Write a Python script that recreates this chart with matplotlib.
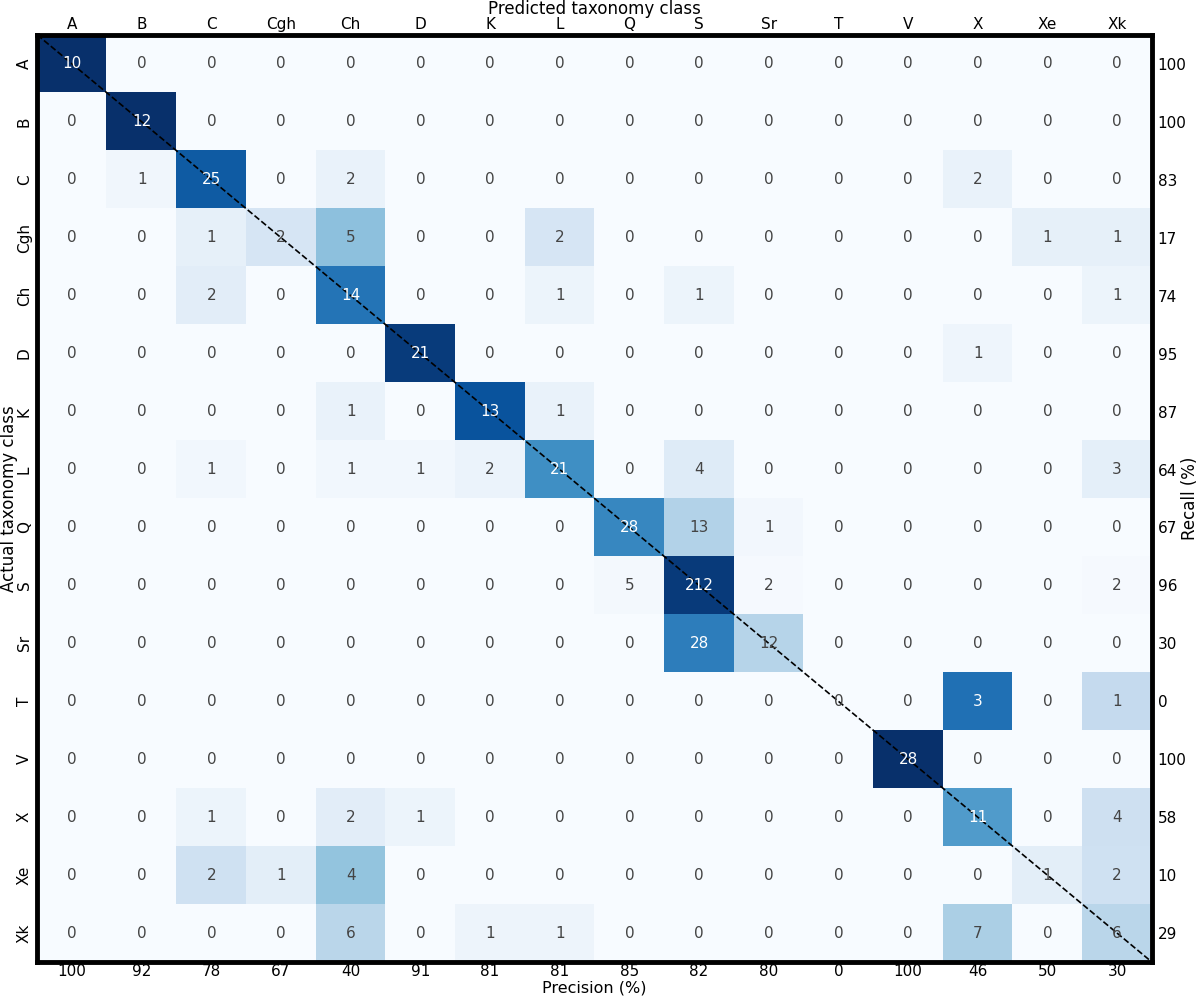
import matplotlib
matplotlib.use('Agg')
import matplotlib.pyplot as plt
import numpy as np

plt.rcParams['font.family'] = 'sans-serif'
plt.rcParams['font.sans-serif'] = ['DejaVu Sans']

# Taxonomy classes (rows = actual, columns = predicted)
classes = ['A', 'B', 'C', 'Cgh', 'Ch', 'D', 'K', 'L', 'Q', 'S', 'Sr', 'T', 'V', 'X', 'Xe', 'Xk']

# Confusion matrix counts, one list per actual class
row_A   = [10, 0, 0, 0, 0, 0, 0, 0, 0, 0, 0, 0, 0, 0, 0, 0]
row_B   = [0, 12, 0, 0, 0, 0, 0, 0, 0, 0, 0, 0, 0, 0, 0, 0]
row_C   = [0, 1, 25, 0, 2, 0, 0, 0, 0, 0, 0, 0, 0, 2, 0, 0]
row_Cgh = [0, 0, 1, 2, 5, 0, 0, 2, 0, 0, 0, 0, 0, 0, 1, 1]
row_Ch  = [0, 0, 2, 0, 14, 0, 0, 1, 0, 1, 0, 0, 0, 0, 0, 1]
row_D   = [0, 0, 0, 0, 0, 21, 0, 0, 0, 0, 0, 0, 0, 1, 0, 0]
row_K   = [0, 0, 0, 0, 1, 0, 13, 1, 0, 0, 0, 0, 0, 0, 0, 0]
row_L   = [0, 0, 1, 0, 1, 1, 2, 21, 0, 4, 0, 0, 0, 0, 0, 3]
row_Q   = [0, 0, 0, 0, 0, 0, 0, 0, 28, 13, 1, 0, 0, 0, 0, 0]
row_S   = [0, 0, 0, 0, 0, 0, 0, 0, 5, 212, 2, 0, 0, 0, 0, 2]
row_Sr  = [0, 0, 0, 0, 0, 0, 0, 0, 0, 28, 12, 0, 0, 0, 0, 0]
row_T   = [0, 0, 0, 0, 0, 0, 0, 0, 0, 0, 0, 0, 0, 3, 0, 1]
row_V   = [0, 0, 0, 0, 0, 0, 0, 0, 0, 0, 0, 0, 28, 0, 0, 0]
row_X   = [0, 0, 1, 0, 2, 1, 0, 0, 0, 0, 0, 0, 0, 11, 0, 4]
row_Xe  = [0, 0, 2, 1, 4, 0, 0, 0, 0, 0, 0, 0, 0, 0, 1, 2]
row_Xk  = [0, 0, 0, 0, 6, 0, 1, 1, 0, 0, 0, 0, 0, 7, 0, 6]

# Per-class scores shown on the margins
precision = [100, 92, 78, 67, 40, 91, 81, 81, 85, 82, 80, 0, 100, 46, 50, 30]
recall = [100, 100, 83, 17, 74, 95, 87, 64, 67, 96, 30, 0, 100, 58, 10, 29]

cm = np.array([row_A, row_B, row_C, row_Cgh, row_Ch, row_D, row_K, row_L,
               row_Q, row_S, row_Sr, row_T, row_V, row_X, row_Xe, row_Xk])
norm = cm / cm.sum(axis=1, keepdims=True)
n = len(classes)

fig = plt.figure(figsize=(12, 9.96), dpi=100)
ax = fig.add_axes([0.031, 0.034, 0.929, 0.931])

ax.imshow(norm, cmap='Blues', vmin=0, vmax=1, aspect='auto', interpolation='nearest')

# Cell counts
for i in range(n):
    for j in range(n):
        col = 'white' if norm[i, j] > 0.5 else '#444444'
        ax.text(j, i, str(cm[i, j]), ha='center', va='center', fontsize=11, color=col)

# Diagonal
ax.plot([-0.5, n - 0.5], [-0.5, n - 0.5], color='black', linestyle='--', linewidth=1.2)
ax.set_xlim(-0.5, n - 0.5)
ax.set_ylim(n - 0.5, -0.5)

# Top: predicted classes
ax.xaxis.tick_top()
ax.xaxis.set_label_position('top')
ax.set_xticks(range(n))
ax.set_xticklabels(classes, fontsize=11)
ax.set_xlabel('Predicted taxonomy class', fontsize=12, va='baseline')
ax.xaxis.set_label_coords(0.5, 1.0225)
ax.tick_params(axis='x', length=0, pad=2)

# Left: actual classes
ax.set_yticks(range(n))
ax.set_yticklabels(classes, fontsize=11, rotation=90, va='center')
ax.set_ylabel('Actual taxonomy class', fontsize=12, va='center')
ax.yaxis.set_label_coords(-0.025, 0.5)
ax.tick_params(axis='y', length=0, pad=4)

# Bottom: precision
axb = ax.secondary_xaxis('bottom')
axb.set_xticks(range(n))
axb.set_xticklabels([str(p) for p in precision], fontsize=11)
axb.tick_params(length=0, pad=1.5)
axb.spines['bottom'].set_visible(False)
ax.text(0.5, -0.0365, 'Precision (%)', transform=ax.transAxes, fontsize=11.5,
        ha='center', va='bottom', clip_on=False)

# Right: recall
axr = ax.secondary_yaxis('right')
axr.set_yticks(range(n))
axr.set_yticklabels([str(r) for r in recall], fontsize=11)
axr.tick_params(length=0, pad=4)
axr.spines['right'].set_visible(False)
ax.text(1.034, 0.5, 'Recall (%)', transform=ax.transAxes, fontsize=12,
        rotation=90, ha='center', va='center', clip_on=False)

for s in ax.spines.values():
    s.set_linewidth(3.5)
    s.set_color('black')

fig.savefig('out.png', dpi=100)
